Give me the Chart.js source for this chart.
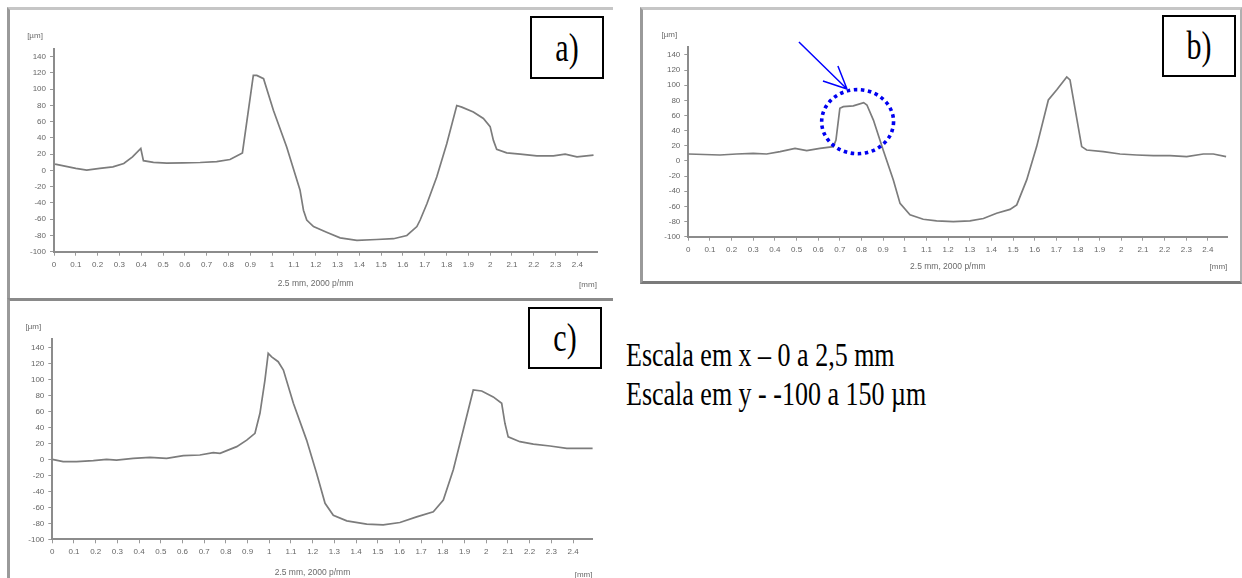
<!DOCTYPE html>
<html><head><meta charset="utf-8">
<script src="https://cdn.jsdelivr.net/npm/chart.js@4.4.1/dist/chart.umd.min.js"></script>
<style>
html,body{margin:0;padding:0;background:#fff;}
body{width:1242px;height:578px;position:relative;overflow:hidden;font-family:"Liberation Sans",Arial,sans-serif;}
.frame{position:absolute;box-sizing:border-box;}
canvas{position:absolute;}
.lbl{position:absolute;box-sizing:border-box;border:2px solid #000;background:#fff;display:flex;align-items:center;justify-content:center;font-family:"Liberation Serif","Times New Roman",serif;font-size:30px;color:#000;}
.lbl span{display:inline-block;transform:scaleY(1.3);}
.note{position:absolute;left:626px;font-family:"Liberation Serif","Times New Roman",serif;font-size:26px;line-height:26px;white-space:nowrap;transform:scaleY(1.3);transform-origin:0 0;color:#000;}
</style></head>
<body>
<div class="frame" style="left:7px;top:7px;width:606px;height:291px;border-left:3px solid #9a9a9a;border-top:3px solid #c6c6c6;"></div>
<div class="frame" style="left:7px;top:298px;width:606px;height:280px;border-left:3px solid #9a9a9a;border-top:3px solid #8a8a8a;"></div>
<div class="frame" style="left:640px;top:7px;width:602px;height:277px;border-left:3px solid #9a9a9a;border-top:3px solid #c6c6c6;border-bottom:3px solid #7a7a7a;border-right:2px solid #b0b0b0;"></div>

<canvas id="ca" width="605" height="290" style="left:8px;top:8px;width:605px;height:290px;"></canvas>
<canvas id="cb" width="599" height="275" style="left:641px;top:8px;width:599px;height:275px;"></canvas>
<canvas id="cc" width="605" height="279" style="left:8px;top:299px;width:605px;height:279px;"></canvas>

<div class="lbl" style="left:530px;top:16px;width:74px;height:63px;"><span>a)</span></div>
<div class="lbl" style="left:1162px;top:15px;width:74px;height:62px;"><span>b)</span></div>
<div class="lbl" style="left:528px;top:307px;width:74px;height:62px;"><span>c)</span></div>

<div class="note" style="top:339px;">Escala em x – 0 a 2,5 mm</div>
<div class="note" style="top:378px;">Escala em y - -100 a 150 µm</div>

<script>
// ---- data ----
const xA = [0.005,0.10,0.15,0.21,0.27,0.32,0.36,0.398,0.41,0.456,0.517,0.593,0.67,0.746,0.807,0.853,0.864,0.914,0.93,0.961,1.006,1.067,1.128,1.144,1.159,1.19,1.25,1.312,1.389,1.48,1.557,1.618,1.664,1.679,1.71,1.755,1.801,1.847,1.87,1.923,1.969,2.0,2.015,2.03,2.076,2.138,2.214,2.29,2.344,2.398,2.474];
const yA = [7.8,2.5,0.4,2.5,4.4,8.6,16.7,27,12,10,9,9.4,9.8,10.8,13.5,20,21.6,117,117,113,74,29,-24,-49,-61,-69,-76,-83,-86,-85,-84,-80,-69,-61,-41,-8,33,80,78,72,64,54,37,26,21.7,20,18,18,20,16.7,18.8];

const xB = [0,0.146,0.223,0.3,0.362,0.424,0.493,0.547,0.608,0.67,0.682,0.70,0.716,0.762,0.81,0.825,0.855,0.90,0.947,0.978,1.024,1.085,1.147,1.224,1.301,1.363,1.424,1.486,1.517,1.563,1.609,1.663,1.702,1.748,1.763,1.817,1.84,1.917,1.994,2.071,2.148,2.225,2.302,2.379,2.425,2.484];
const yB = [9.2,7.9,9.2,10,9.2,12.3,16.7,13.6,16.7,18.9,27.7,69.6,71.7,72.7,77,74,54,14.5,-25,-56,-71,-77,-79,-80,-79,-76,-69,-64,-58,-25,19,80.6,94,111,107,19,14.5,12.3,9.2,7.9,7,7,5.7,9.2,9.2,5.7];

const xC = [0,0.05,0.112,0.189,0.25,0.296,0.373,0.45,0.527,0.604,0.68,0.742,0.773,0.804,0.85,0.896,0.934,0.957,0.98,0.995,1.011,1.041,1.065,1.111,1.172,1.218,1.257,1.295,1.357,1.449,1.525,1.602,1.679,1.756,1.802,1.848,1.894,1.94,1.979,2.032,2.071,2.086,2.101,2.155,2.217,2.294,2.371,2.493];
const yC = [0,-3,-3,-1.7,0,-1,1.2,2.5,1.2,4.6,5.4,8.3,7.5,10.8,15.8,24,32.5,57.5,99,132.5,128,122,111.6,70,24,-17.5,-55,-70,-77,-81,-82,-79,-72,-65.5,-51,-13,36.6,86.6,85.4,78,70,45,28,22,19,16.6,13.7,13.7];

const X_MIN = 0, X_MAX = 2.49, X_STEP = 0.1;
const Y_MIN = -100, Y_MAX = 150, Y_STEP = 20;
const Y_UNIT = '[µm]', X_UNIT = '[mm]', X_TITLE = '2.5 mm, 2000 p/mm';

// annotation in panel b (data coordinates)
const B_CIRCLE = {x:0.782, y:51.9, rx:0.166, ry:42.3};
const B_ARROW_FROM = [0.511,157.2], B_ARROW_TIP = [0.733,95.1];
const B_ARROW_WINGS = [[0.622,105.7],[0.691,125.5]];

// ---- layout ----
const GA = {padTop:40.6, padRight:16, yw:46, xh:46.3, titleDy:32, unitDy:33};
const GB = {padTop:39.4, padRight:12.6, yw:47.3, xh:46.3, titleDy:30, unitDy:30};
const GC = {padTop:40.3, padRight:20.4, yw:44.3, xh:38.7, titleDy:33, unitDy:35};

const textPlugin = {
  id:'panelText',
  afterDraw(chart, args, opts){
    const a = chart.chartArea, ctx = chart.ctx;
    ctx.save();
    ctx.fillStyle = '#6a6a6a';
    ctx.font = '8px "Liberation Sans", Arial, sans-serif';
    ctx.textBaseline = 'middle';
    ctx.textAlign = 'center';
    ctx.fillText(Y_UNIT, a.left - 19, a.top - 13);
    ctx.font = '8.5px "Liberation Sans", Arial, sans-serif';
    ctx.fillText(X_TITLE, (a.left + a.right)/2 - 10, a.bottom + opts.titleDy);
    ctx.font = '8px "Liberation Sans", Arial, sans-serif';
    ctx.fillText(X_UNIT, a.right - 9, a.bottom + opts.unitDy);
    ctx.restore();
  }
};

const markPlugin = {
  id:'markB',
  afterDatasetsDraw(chart){
    const xs = chart.scales.x, ys = chart.scales.y, ctx = chart.ctx;
    const px = v => xs.getPixelForValue(v), py = v => ys.getPixelForValue(v);
    ctx.save();
    ctx.strokeStyle = '#0000f0';
    ctx.lineWidth = 3.6;
    ctx.setLineDash([3.5,3.6]);
    const cx = px(B_CIRCLE.x), cy = py(B_CIRCLE.y);
    const rx = px(B_CIRCLE.x + B_CIRCLE.rx) - cx, ry = cy - py(B_CIRCLE.y + B_CIRCLE.ry);
    ctx.beginPath();
    ctx.ellipse(cx, cy, rx, ry, 0, 0, Math.PI*2);
    ctx.stroke();
    ctx.setLineDash([]);
    ctx.lineWidth = 1.5;
    ctx.strokeStyle = '#0000ff';
    ctx.beginPath();
    ctx.moveTo(px(B_ARROW_FROM[0]), py(B_ARROW_FROM[1]));
    ctx.lineTo(px(B_ARROW_TIP[0]), py(B_ARROW_TIP[1]));
    B_ARROW_WINGS.forEach(w => {
      ctx.moveTo(px(w[0]), py(w[1]));
      ctx.lineTo(px(B_ARROW_TIP[0]), py(B_ARROW_TIP[1]));
    });
    ctx.stroke();
    ctx.restore();
  }
};

function fmt(v){ return String(+v.toFixed(2)); }

function makeChart(id, xs, ys, g, extra){
  const pts = xs.map((x,i)=>({x:x, y:ys[i]}));
  return new Chart(document.getElementById(id), {
    type:'line',
    data:{datasets:[{data:pts, borderColor:'#7c7c7c', borderWidth:1.7, pointRadius:0, tension:0, fill:false}]},
    options:{
      responsive:false, animation:false, devicePixelRatio:1,
      layout:{padding:{left:0, top:g.padTop, right:g.padRight, bottom:0}},
      plugins:{legend:{display:false}, tooltip:{enabled:false}, title:{display:false},
               panelText:{titleDy:g.titleDy, unitDy:g.unitDy}},
      scales:{
        x:{type:'linear', min:X_MIN, max:X_MAX,
           ticks:{stepSize:X_STEP, includeBounds:false, autoSkip:false, maxRotation:0, minRotation:0,
                  font:{size:8, family:'"Liberation Sans", Arial, sans-serif'}, color:'#666', padding:4, callback:fmt},
           grid:{drawOnChartArea:false, drawTicks:true, tickLength:4, color:'#9a9a9a', lineWidth:1},
           border:{display:true, color:'#8c8c8c', width:2},
           afterFit:s=>{ s.height = g.xh; }},
        y:{type:'linear', min:Y_MIN, max:Y_MAX,
           ticks:{stepSize:Y_STEP, includeBounds:false, autoSkip:false,
                  font:{size:8, family:'"Liberation Sans", Arial, sans-serif'}, color:'#666', padding:4, callback:fmt},
           grid:{drawOnChartArea:false, drawTicks:true, tickLength:4, color:'#9a9a9a', lineWidth:1},
           border:{display:true, color:'#8c8c8c', width:2},
           afterFit:s=>{ s.width = g.yw; }}
      }
    },
    plugins:[textPlugin].concat(extra || [])
  });
}

makeChart('ca', xA, yA, GA);
makeChart('cb', xB, yB, GB, [markPlugin]);
makeChart('cc', xC, yC, GC);
</script>
</body></html>
